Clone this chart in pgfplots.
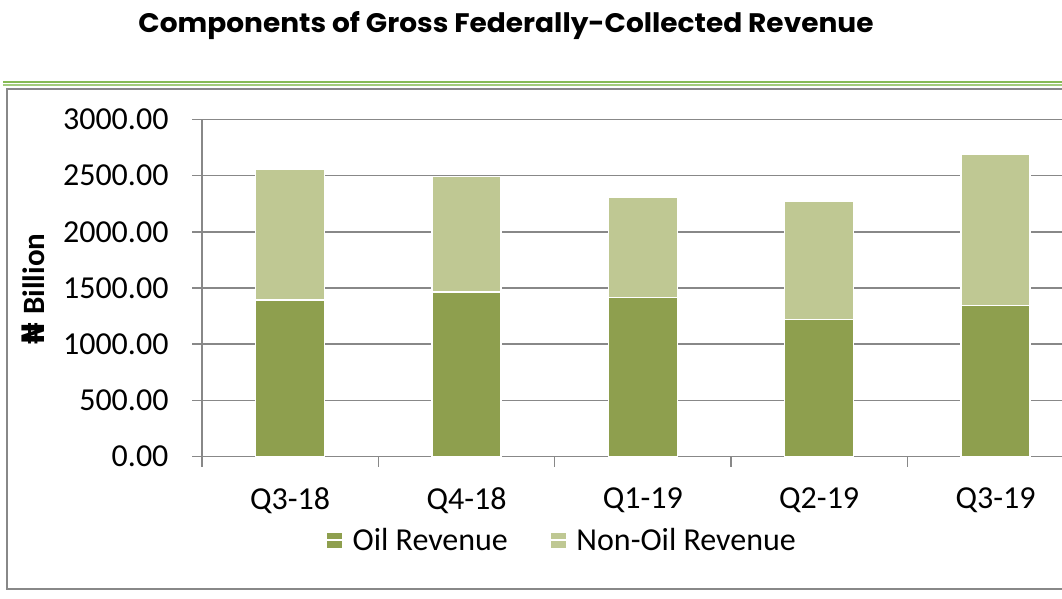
\documentclass[border=0pt]{standalone}
\usepackage{fontspec}
\setmainfont{Carlito}
\newfontfamily\titlefont{Poppins}
\newfontfamily\dejavu{DejaVu Sans}
\usepackage{pgfplots}
\pgfplotsset{compat=1.18}
\definecolor{oil}{HTML}{8E9F4E}
\definecolor{nonoil}{HTML}{BFC893}
\definecolor{gridc}{HTML}{888888}
\definecolor{glineA}{HTML}{86BA55}
\definecolor{glineB}{HTML}{A3CC7C}
\begin{document}
\begin{tikzpicture}
\path[use as bounding box, fill=white] (0pt,0pt) rectangle (1062pt,598pt);
\node[anchor=base, inner sep=0pt] at (506pt,565pt) {\resizebox{735pt}{21pt}{\titlefont\bfseries Components of Gross Federally-Collected Revenue}};
\draw[glineA, line width=1.6pt] (3pt,516pt) -- (1062pt,516pt);
\draw[glineB, line width=1.6pt] (3pt,512.7pt) -- (1062pt,512.7pt);
\draw[gridc, line width=1.5pt] (1062pt,9pt) -- (7pt,9pt) -- (7pt,509pt) -- (1062pt,509pt);
\node[rotate=90, anchor=center, font=\bfseries\fontsize{31}{34}\selectfont] at (33.5pt,309pt) {{\dejavu\bfseries ₦}\hspace{8pt}Billion};
\begin{axis}[
  at={(202pt,141.3pt)}, anchor=south west, scale only axis,
  width=860pt, height=337.4pt,
  ybar stacked, bar width=69pt,
  xmin=-0.5, xmax=4.377, ymin=0, ymax=3000,
  axis x line*=bottom, axis y line*=left,
  axis line style={gridc, line width=1.5pt},
  ytick={0,500,...,3000},
  ymajorgrids, grid style={gridc, line width=1.5pt},
  tick style={gridc, line width=1.5pt},
  tick align=outside, major tick length=10pt, minor tick length=10pt,
  xtick={0,1,2,3,4},
  xticklabels={Q3-18,Q4-18,Q1-19,Q2-19,Q3-19},
  major x tick style={draw=none},
  minor xtick={-0.5,0.5,1.5,2.5,3.5},
  tick label style={font=\fontsize{32}{38}\selectfont, text=black},
  yticklabel style={xshift=-20pt, /pgf/number format/fixed, /pgf/number format/fixed zerofill, /pgf/number format/precision=2, /pgf/number format/1000 sep={}, /pgf/number format/assume math mode=true},
  xticklabel style={yshift=-17pt},
  legend columns=2,
  legend style={draw=none, fill=none, at={(0.4186,-0.247)}, anchor=center,
    font=\fontsize{32}{38}\selectfont,
    /tikz/every even column/.append style={column sep=40pt}},
  legend image code/.code={\fill[#1,draw=none] (0pt,-7.5pt) rectangle (15pt,7.5pt); \path (0pt,0pt) -- (23pt,0pt);},
]
\addplot[fill=oil, draw=white, line width=1.5pt] coordinates {(0,1393) (1,1464) (2,1414) (3,1221) (4,1343)};
\addplot[fill=nonoil, draw=white, line width=1.5pt] coordinates {(0,1162) (1,1026) (2,889) (3,1052) (4,1348)};
\legend{Oil Revenue, Non-Oil Revenue}
\end{axis}
\end{tikzpicture}
\end{document}
